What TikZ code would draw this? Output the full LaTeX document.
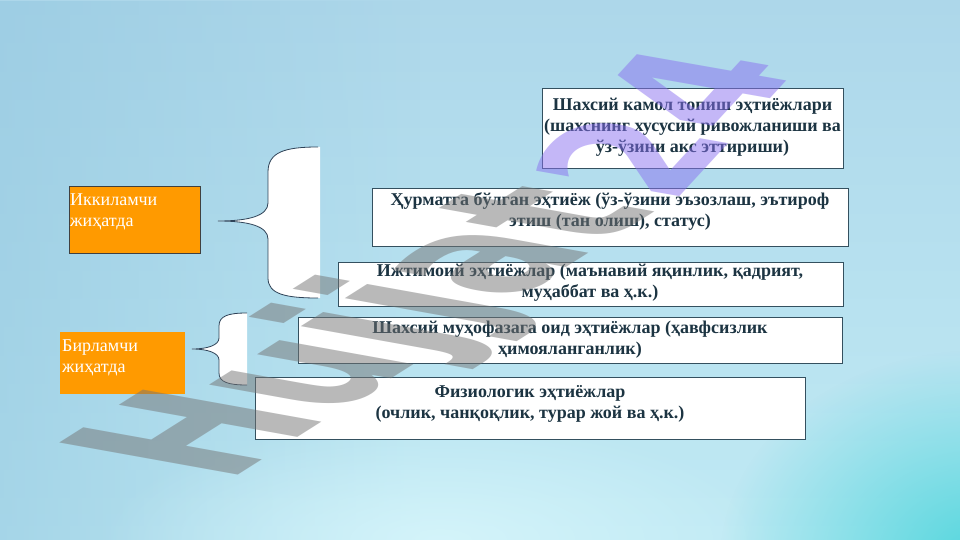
\documentclass[tikz,border=0pt]{standalone}
\usepackage{fontspec}
\setmainfont{Liberation Serif}
\newfontfamily\wmfont{DejaVu Sans}
\usetikzlibrary{fadings}
\definecolor{bgA}{HTML}{ADD7EA}
\definecolor{bgB}{HTML}{C0EAF4}
\definecolor{bgL}{HTML}{94C8E0}
\definecolor{bgHi}{HTML}{D6F5FB}
\definecolor{bgCy}{HTML}{52D6DD}
\definecolor{orng}{HTML}{FF9A00}
\definecolor{boxline}{HTML}{34505F}
\definecolor{txt}{HTML}{1C3442}
\definecolor{braceline}{HTML}{2E4257}
\definecolor{wmgray}{HTML}{747474}
\definecolor{wmpurple}{HTML}{8A70F0}
\tikzfading[name=faderight, left color=transparent!0, right color=transparent!100]
\tikzfading[name=fadeglow, inner color=transparent!0, outer color=transparent!100]
\begin{document}
\begin{tikzpicture}[x=1pt,y=-1pt,
  needbox/.style={draw=boxline, line width=0.9pt, fill=white, inner sep=0pt, anchor=north west},
  needtext/.style={text=txt, font=\fontsize{18}{21}\selectfont\bfseries, align=center, inner sep=0pt, anchor=north},
  sidebox/.style={fill=orng, inner sep=0pt, anchor=north west},
  sidetext/.style={text=white, font=\fontsize{18}{21}\selectfont, align=left, inner sep=0pt, anchor=north west},
  bracefill/.style={fill=white},
  braceedge/.style={draw=braceline, line width=0.8pt},
  wmark/.style={transform shape, anchor=base west, inner sep=0pt, font=\wmfont\bfseries\fontsize{100}{100}\selectfont, text opacity=0.5}
]
\useasboundingbox (0,0) rectangle (960,540);
% background
\shade[top color=bgA, bottom color=bgB] (0,0) rectangle (960,540);
\begin{scope}
\clip (0,0) rectangle (960,540);
\fill[bgL, path fading=faderight, fit fading=true, opacity=0.6] (0,0) rectangle (420,540);
\fill[bgHi, path fading=fadeglow, fit fading=true, opacity=0.9] (440,540) ellipse (340 and 120);
\fill[bgCy, path fading=fadeglow, fit fading=true] (980,560) ellipse (260 and 210);
\end{scope}

% braces
\coordinate (tip1) at (218,221);
\coordinate (tip2) at (192,349);
\path[bracefill] (318,147) .. controls (285,147) and (268,152) .. (268,172) -- (268,203)
  .. controls (268,216) and (248,221) .. (tip1)
  .. controls (248,221) and (268,226) .. (268,239) -- (268,278)
  .. controls (268,294) and (285,298) .. (320,298) -- (320,147) -- cycle;
\path[braceedge] (318,147) .. controls (285,147) and (268,152) .. (268,172) -- (268,203)
  .. controls (268,216) and (248,221) .. (tip1)
  .. controls (248,221) and (268,226) .. (268,239) -- (268,278)
  .. controls (268,294) and (285,298) .. (318,298);
\path[bracefill] (247,313) .. controls (228,313) and (219,316) .. (219,326) -- (219,338)
  .. controls (219,345) and (208,349) .. (tip2)
  .. controls (208,349) and (219,353) .. (219,360) -- (219,373)
  .. controls (219,382) and (228,385) .. (247,385) -- cycle;
\path[braceedge] (247,313) .. controls (228,313) and (219,316) .. (219,326) -- (219,338)
  .. controls (219,345) and (208,349) .. (tip2)
  .. controls (208,349) and (219,353) .. (219,360) -- (219,373)
  .. controls (219,382) and (228,385) .. (247,385);

% side boxes
\node[sidebox, draw=black!75, line width=0.8pt, minimum width=131pt, minimum height=67pt] (second) at (69,186) {};
\node[sidetext] (secondtext) at (70,194) {Иккиламчи\\жиҳатда};
\node[sidebox, minimum width=125pt, minimum height=62pt] (first) at (60,332) {};
\node[sidetext] (firsttext) at (62,339.5) {Бирламчи\\жиҳатда};

% need boxes
\node[needbox, minimum width=301pt, minimum height=80pt] (boxA) at (542,88) {};
\node[needtext] (textA) at (692.5,97.6) {Шахсий камол топиш эҳтиёжлари\\(шахснинг хусусий ривожланиши ва\\ўз-ўзини акс эттириши)};
\node[needbox, minimum width=476pt, minimum height=58pt] (boxB) at (372,188) {};
\node[needtext] (textB) at (610,192.5) {Ҳурматга бўлган эҳтиёж (ўз-ўзини эъзозлаш, эътироф\\этиш (тан олиш), статус)};
\node[needbox, minimum width=505pt, minimum height=44pt] (boxC) at (338,262) {};
\node[needtext] (textC) at (590,263.5) {Ижтимоий эҳтиёжлар (маънавий яқинлик, қадрият,\\муҳаббат ва ҳ.к.)};
\node[needbox, minimum width=544pt, minimum height=46pt] (boxD) at (298,317) {};
\node[needtext] (textD) at (570,320.5) {Шахсий муҳофазага оид эҳтиёжлар (ҳавфсизлик\\ҳимояланганлик)};
\node[needbox, minimum width=550pt, minimum height=62pt] (boxE) at (255,377) {};
\node[needtext] (textE) at (530,385.5) {Физиологик эҳтиёжлар\\(очлик, чанқоқлик, турар жой ва ҳ.к.)};

% watermark
\begin{scope}[shift={(226,483)}, cm={1.28,0.81,-2.45,0.44,(0,0)}]
\node[wmark, text=wmgray] (wmA) at (0,0) {Hujjat};
\end{scope}
\begin{scope}[shift={(672,205)}, cm={0.92,1.0,-2.05,0.36,(0,0)}]
\node[wmark, text=wmpurple] (wmB) at (0,0) {24};
\end{scope}
\end{tikzpicture}
\end{document}
